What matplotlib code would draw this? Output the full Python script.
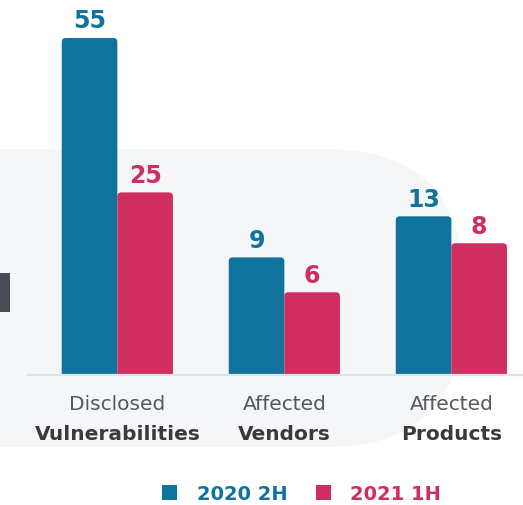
import matplotlib
matplotlib.use("Agg")
import matplotlib.pyplot as plt
from matplotlib.patches import FancyBboxPatch, Rectangle

# ---- data ----
categories_top = ["Disclosed", "Affected", "Affected"]
categories_bottom = ["Vulnerabilities", "Vendors", "Products"]
series_names = ["2020 2H", "2021 1H"]
values_2020 = [55, 9, 13]        # printed values
values_2021 = [25, 6, 8]
# bar heights as drawn in the infographic (not to scale with the printed values)
heights_2020 = [55, 19.2, 25.9]
heights_2021 = [29.8, 13.5, 21.5]

BLUE = "#10739e"
PINK = "#d02e61"
W, H = 523, 505

fig = plt.figure(figsize=(W / 100, H / 100), dpi=100)
fig.patch.set_facecolor("white")

# background decoration in pixel coordinates
bg = fig.add_axes([0, 0, 1, 1], zorder=0)
bg.set_xlim(0, W)
bg.set_ylim(H, 0)
bg.axis("off")
bg.add_patch(FancyBboxPatch((-400, 149), 400 + 464, 298,
                            boxstyle="round,pad=0,rounding_size=138",
                            facecolor="#f5f6f8", edgecolor="none"))
bg.add_patch(Rectangle((0, 273), 10, 39, facecolor="#4a4a55", edgecolor="none"))

# main chart axes
left_px, base_px = 28, 375
ax = fig.add_axes([left_px / W, (H - base_px) / H, (W - left_px) / W, base_px / H], zorder=1)
ax.patch.set_alpha(0)
ax.set_ylim(0, 55 * base_px / 337)
ax.set_xlim(-0.535, 2.429)
for s in ax.spines.values():
    s.set_visible(False)
ax.set_xticks([])
ax.set_yticks([])
ax.axhline(0, color="#dfe1e5", lw=1.6, zorder=1, clip_on=False)

bw = 0.333
x = list(range(len(categories_top)))
b1 = ax.bar([i - bw / 2 for i in x], heights_2020, width=bw, color=BLUE, zorder=2)
b2 = ax.bar([i + bw / 2 for i in x], heights_2021, width=bw, color=PINK, zorder=2)

# give the bars slightly rounded top corners (drawn over the bars in pixel space)
to_px = lambda pt: bg.transData.inverted().transform(ax.transData.transform(pt))
clip = Rectangle((0, 0), W, base_px - 0.5, transform=bg.transData)
for bars in (b1, b2):
    for r in bars:
        r.set_visible(False)
        x0, y0 = to_px((r.get_x(), 0))
        x1, y1 = to_px((r.get_x() + r.get_width(), r.get_height()))
        p = FancyBboxPatch((x0, y1), x1 - x0, (y0 - y1) + 8,
                           boxstyle="round,pad=0,rounding_size=4",
                           facecolor=r.get_facecolor(), edgecolor="none", zorder=3)
        bg.add_patch(p)
        p.set_clip_path(clip)

lab_font = dict(fontfamily="DejaVu Sans", fontweight="bold", fontsize=17)
for bars, vals, col in [(b1, values_2020, BLUE), (b2, values_2021, PINK)]:
    for r, v in zip(bars, vals):
        ax.annotate(str(v), (r.get_x() + r.get_width() / 2, r.get_height()),
                    xytext=(0, 7), textcoords="offset points", ha="center", va="baseline",
                    color=col, clip_on=False, zorder=5, **lab_font)

# category labels
for i, (t, b) in enumerate(zip(categories_top, categories_bottom)):
    xf = (left_px + (i + 0.535) / 2.964 * (W - left_px)) / W
    fig.text(xf, 1 - 410 / H, t, ha="center", va="baseline", fontsize=14.5,
             color="#55585e", fontfamily="DejaVu Sans")
    fig.text(xf, 1 - 440 / H, b, ha="center", va="baseline", fontsize=14.5,
             color="#3a3a3c", fontweight="bold", fontfamily="DejaVu Sans")

# legend
for sq_x, txt_x, name, col in [(162, 197, series_names[0], BLUE), (316, 350, series_names[1], PINK)]:
    bg.add_patch(Rectangle((sq_x, 485), 15, 15, facecolor=col, edgecolor="none"))
    bg.text(txt_x, 500, name, ha="left", va="baseline", fontsize=14, fontweight="bold",
            color=col, fontfamily="DejaVu Sans")

fig.savefig("out.png", dpi=100)
